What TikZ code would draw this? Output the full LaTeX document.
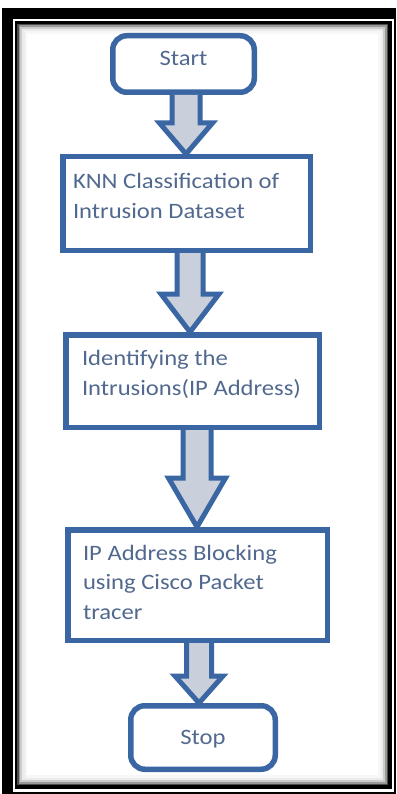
\documentclass[tikz,border=0pt]{standalone}
\usepackage{fontspec}
\setmainfont[FakeStretch=1.12]{Carlito}
\usetikzlibrary{calc}
\definecolor{flowblue}{HTML}{3A66A3}
\definecolor{flowtext}{HTML}{52698F}
\definecolor{arrfill}{HTML}{C9D0DB}
\tikzset{
  termbox/.style={draw=flowblue, line width=5.5pt, rounded corners=14pt, fill=white, text=flowtext, font=\fontsize{22}{29.5}\selectfont, inner sep=0pt},
  procbox/.style={draw=flowblue, line width=5.5pt, fill=white, text=flowtext, font=\fontsize{22}{29.5}\selectfont, inner sep=0pt, anchor=center, text height=16pt},
  arr/.style={draw=flowblue, line width=5pt, fill=arrfill, line join=miter}
}
% #1 from node, #2 to node, #3 x centre, #4 half shaft, #5 half head, #6 head length
\newcommand\flowarr[6]{%
  \draw[arr] let \p1=(#1.south), \p2=(#2.north) in
    ({#3pt-#4pt},{\y1}) -- ({#3pt-#4pt},{\y2+#6pt}) -- ({#3pt-#5pt},{\y2+#6pt})
    -- ({#3pt},{\y2}) -- ({#3pt+#5pt},{\y2+#6pt}) -- ({#3pt+#4pt},{\y2+#6pt})
    -- ({#3pt+#4pt},{\y1});
}
\newcommand\boxtext[2]{\parbox[t]{#1}{\raggedright #2}}
\begin{document}
\begin{tikzpicture}[x=1pt,y=-1pt]
\useasboundingbox (0,0) rectangle (396,794);
\fill[white] (0,0) rectangle (396,794);
% frame
\fill[black] (2,8) rectangle (396,794);
\fill[white] (13,19) rectangle (393.5,791.5);
\fill[black] (15,21.5) rectangle (392,789);
\fill[black!70] (17,24) rectangle (388,785);
\fill[black!40] (18.5,25.5) rectangle (386.5,783.5);
\fill[black!20] (20,27) rectangle (385,782);
\fill[black!8] (22,29) rectangle (383,780);
\fill[black!3] (24.5,31.5) rectangle (380.5,777.5);
\fill[white] (27,34) rectangle (378,775);
% nodes
\node[termbox, minimum width=141.5pt, minimum height=56.5pt, text height=14pt, text depth=10pt] (s) at (183.5,64) {Start\hspace{15pt}};
\node[procbox, minimum width=247.5pt, minimum height=93.5pt, text depth=45pt] (b2) at (186.5,203.5) {\boxtext{227pt}{KNN Classification of\\Intrusion Dataset}};
\node[procbox, minimum width=253.5pt, minimum height=92.5pt, text depth=48pt] (b3) at (192.5,381) {\boxtext{221pt}{Identifying the\\[1pt]Intrusions(IP Address)}};
\node[procbox, minimum width=259.5pt, minimum height=110.5pt, text depth=66pt] (b4) at (197.5,585) {\boxtext{229pt}{IP Address Blocking\\using Cisco Packet\\tracer}};
\node[termbox, minimum width=144.5pt, minimum height=63.5pt, text height=14pt, text depth=0pt] (e) at (203,737.5) {Stop\hspace{4pt}};
% block arrows
\flowarr{s}{b2}{186}{14}{26.5}{31}
\flowarr{b2}{b3}{190}{13}{29}{38}
\flowarr{b3}{b4}{197}{14}{28.5}{49}
\flowarr{b4}{e}{199}{12.5}{24}{27}
\end{tikzpicture}
\end{document}
